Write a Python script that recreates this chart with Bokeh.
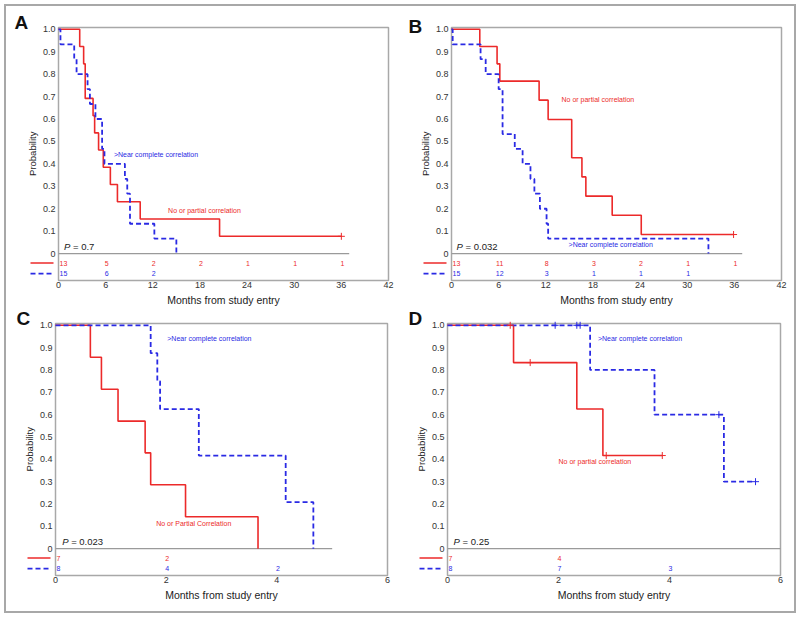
import math
from bokeh.plotting import figure
from bokeh.models import Range1d, FixedTicker, LinearAxis
from bokeh.layouts import gridplot
from bokeh.embed import file_html
from bokeh.resources import INLINE
from bokeh.core.properties import value

RED = "#ec2a2a"
BLUE = "#2a2ae4"
FONT = "Liberation Sans"
GRAY = "#a8a8a8"

# ---------------- data ----------------
y_ticks = [0, 0.1, 0.2, 0.3, 0.4, 0.5, 0.6, 0.7, 0.8, 0.9, 1.0]
y_tick_labels = ["0", "0.1", "0.2", "0.3", "0.4", "0.5", "0.6", "0.7", "0.8", "0.9", "1.0"]
x_ticks_long = [0, 6, 12, 18, 24, 30, 36, 42]
x_ticks_short = [0, 2, 4, 6]

# Panel A
A_red_time = [0, 2.7, 3.2, 3.4, 4.4, 4.6, 5.1, 5.7, 6.6, 7.5, 10.4, 20.5, 36.0]
A_red_surv = [1.0, 0.923, 0.846, 0.692, 0.615, 0.538, 0.462, 0.385, 0.308, 0.231, 0.154, 0.077, 0.077]
A_red_cens_time = [36.0]
A_red_cens_surv = [0.077]
A_blue_time = [0, 0.25, 2.0, 2.3, 3.7, 4.0, 4.7, 5.55, 5.85, 8.45, 8.75, 9.1, 12.2, 15.0]
A_blue_surv = [1.0, 0.933, 0.867, 0.8, 0.733, 0.667, 0.6, 0.467, 0.4, 0.333, 0.267, 0.133, 0.067, 0.0]
A_blue_cens_time = []
A_blue_cens_surv = []
A_risk_time = [0, 6, 12, 18, 24, 30, 36]
A_risk_red = [13, 5, 2, 2, 1, 1, 1]
A_risk_blue = [15, 6, 2]

# Panel B
B_red_time = [0, 3.6, 5.8, 6.15, 11.15, 12.3, 15.3, 16.6, 17.1, 20.45, 24.15, 35.9]
B_red_surv = [1.0, 0.923, 0.846, 0.769, 0.684, 0.598, 0.427, 0.342, 0.256, 0.171, 0.085, 0.085]
B_red_cens_time = [35.9]
B_red_cens_surv = [0.085]
B_blue_time = [0, 0.15, 3.7, 4.35, 6.0, 6.5, 8.05, 9.05, 10.05, 10.55, 11.25, 12.1, 12.3, 32.7]
B_blue_surv = [1.0, 0.933, 0.867, 0.8, 0.733, 0.533, 0.467, 0.4, 0.333, 0.267, 0.2, 0.133, 0.067, 0.0]
B_blue_cens_time = []
B_blue_cens_surv = []
B_risk_time = [0, 6, 12, 18, 24, 30, 36]
B_risk_red = [13, 11, 8, 3, 2, 1, 1]
B_risk_blue = [15, 12, 3, 1, 1, 1]

# Panel C
C_red_time = [0, 0.63, 0.83, 1.13, 1.62, 1.72, 2.35, 3.66]
C_red_surv = [1.0, 0.857, 0.714, 0.571, 0.429, 0.286, 0.143, 0.0]
C_red_cens_time = []
C_red_cens_surv = []
C_blue_time = [0, 1.72, 1.84, 1.89, 2.59, 4.16, 4.66]
C_blue_surv = [1.0, 0.875, 0.75, 0.625, 0.417, 0.208, 0.0]
C_blue_cens_time = []
C_blue_cens_surv = []
C_risk_time = [0, 2, 4]
C_risk_red = [7, 2]
C_risk_blue = [8, 4, 2]

# Panel D
D_red_time = [0, 1.19, 2.33, 2.8, 3.87]
D_red_surv = [1.0, 0.833, 0.625, 0.417, 0.417]
D_red_cens_time = [1.13, 1.49, 2.86, 3.87]
D_red_cens_surv = [1.0, 0.833, 0.417, 0.417]
D_blue_time = [0, 2.57, 3.73, 4.98, 5.55]
D_blue_surv = [1.0, 0.8, 0.6, 0.3, 0.3]
D_blue_cens_time = [1.94, 2.33, 2.39, 4.89, 5.55]
D_blue_cens_surv = [1.0, 1.0, 1.0, 0.6, 0.3]
D_risk_time = [0, 2, 4]
D_risk_red = [7, 4]
D_risk_blue = [8, 7, 3]

# ---------------- layout constants ----------------
Y0, Y1 = -0.12, 1.008          # plot box, in probability units
ROW_RED, ROW_BLUE = -0.042, -0.089
FIG_W = 394


def make_panel(letter, letter_dx, letter_dy, xmax, xticks, red, blue, red_cens, blue_cens,
               risk_time, risk_red, risk_blue, zero_end, pval, pval_xy, red_label, red_xy,
               blue_label, blue_xy, fig_h, box_left, box_right, box_top, box_h):
    ppx = (box_right - box_left) / xmax          # pixels per month
    ppy = box_h / (Y1 - Y0)                       # pixels per probability unit
    xr = Range1d(-box_left / ppx, xmax + (FIG_W - box_right) / ppx)
    yr = Range1d(Y0 - (fig_h - box_top - box_h) / ppy, Y1 + box_top / ppy)

    p = figure(width=FIG_W, height=fig_h, output_backend="svg", toolbar_location=None,
               x_range=xr, y_range=yr, x_axis_location=None, y_axis_location=None,
               min_border=0, min_border_left=0, min_border_right=0,
               min_border_top=0, min_border_bottom=0)
    p.title = None
    p.background_fill_color = "white"
    p.border_fill_color = "white"
    p.outline_line_color = None
    p.xgrid.visible = False
    p.ygrid.visible = False

    xaxis = LinearAxis(fixed_location=Y0, ticker=FixedTicker(ticks=xticks))
    yaxis = LinearAxis(fixed_location=0, ticker=FixedTicker(ticks=y_ticks))
    yaxis.major_label_overrides = dict(zip(y_ticks, y_tick_labels))
    for ax in (xaxis, yaxis):
        ax.axis_line_color = None
        ax.major_tick_line_color = None
        ax.minor_tick_line_color = None
        ax.major_tick_out = 0
        ax.major_tick_in = 0
        ax.major_label_text_font = FONT
        ax.major_label_text_font_size = "9px"
        ax.major_label_text_color = "#333333"
    xaxis.major_label_standoff = 1
    yaxis.major_label_standoff = 3
    p.add_layout(xaxis, "below")
    p.add_layout(yaxis, "left")

    # plot box
    p.quad(left=[0], right=[xmax], bottom=[Y0], top=[Y1], fill_color=None,
           line_color=GRAY, line_width=1.5)
    # zero line of the survival plot
    p.segment(x0=[0], y0=[0], x1=[zero_end], y1=[0], line_color="#9a9a9a", line_width=1.3)

    # axis titles
    p.text([xmax / 2], [Y0 - 19.5 / ppy], text=["Months from study entry"], text_color="#222222",
           text_font=value(FONT), text_font_size="10.5px", text_baseline="middle", text_align="center")
    p.text([-26 / ppx], [0.445], text=["Probability"], text_color="#222222", angle=math.pi / 2,
           text_font=value(FONT), text_font_size="9.5px", text_baseline="middle", text_align="center")

    # panel letter
    p.text([-letter_dx / ppx], [Y1 - letter_dy / ppy], text=[letter], text_color="#111111",
           text_font=value(FONT), text_font_style="bold", text_font_size="19px",
           text_baseline="alphabetic", text_align="left")

    # curves
    p.step(red[0], red[1], mode="after", line_color=RED, line_width=1.6)
    p.step(blue[0], blue[1], mode="after", line_color=BLUE, line_width=1.8, line_dash="5 3")
    if red_cens[0]:
        p.scatter(red_cens[0], red_cens[1], marker="cross", size=7, line_color=RED, line_width=1)
    if blue_cens[0]:
        p.scatter(blue_cens[0], blue_cens[1], marker="cross", size=7, line_color=BLUE, line_width=1)

    # curve labels
    p.text([red_xy[0]], [red_xy[1]], text=[red_label], text_color=RED,
           text_font=value(FONT), text_font_size="7px", text_baseline="middle", text_align="left")
    p.text([blue_xy[0]], [blue_xy[1]], text=[blue_label], text_color=BLUE,
           text_font=value(FONT), text_font_size="7px", text_baseline="middle", text_align="left")

    # P value
    p.text([pval_xy[0]], [pval_xy[1]], text=["P"], text_color="#222222", text_font=value(FONT),
           text_font_style="italic", text_font_size="9.5px", text_baseline="middle", text_align="left")
    p.text([pval_xy[0]], [pval_xy[1]], text=["= " + pval], text_color="#222222", text_font=value(FONT),
           text_font_size="9.5px", text_baseline="middle", text_align="left", x_offset=9)

    # numbers at risk
    for counts, row, color in ((risk_red, ROW_RED, RED), (risk_blue, ROW_BLUE, BLUE)):
        xs = risk_time[:len(counts)]
        labels = [str(c) for c in counts]
        p.text(xs[:1], [row], text=labels[:1], text_color=color, text_font=value(FONT),
               text_font_size="7px", text_baseline="middle", text_align="left", x_offset=1)
        p.text(xs[1:], [row] * (len(xs) - 1), text=labels[1:], text_color=color, text_font=value(FONT),
               text_font_size="7px", text_baseline="middle", text_align="center", x_offset=1)

    # line samples of the risk table, left of the box
    p.line([-28 / ppx, -5 / ppx], [ROW_RED, ROW_RED], line_color=RED, line_width=1.6)
    p.line([-28 / ppx, -5 / ppx], [ROW_BLUE, ROW_BLUE], line_color=BLUE, line_width=1.8,
           line_dash="5 3")
    return p


pA = make_panel("A", 44, -5, 42, x_ticks_long, (A_red_time, A_red_surv), (A_blue_time, A_blue_surv),
                (A_red_cens_time, A_red_cens_surv), (A_blue_cens_time, A_blue_cens_surv),
                A_risk_time, A_risk_red, A_risk_blue, 37, "0.7", (0.7, 0.03),
                "No or partial correlation", (13.95, 0.19),
                ">Near complete correlation", (7.05, 0.44), 302, 52, 382, 21, 253)
pB = make_panel("B", 43, -1, 42, x_ticks_long, (B_red_time, B_red_surv), (B_blue_time, B_blue_surv),
                (B_red_cens_time, B_red_cens_surv), (B_blue_cens_time, B_blue_cens_surv),
                B_risk_time, B_risk_red, B_risk_blue, 37, "0.032", (0.64, 0.03),
                "No or partial correlation", (14.0, 0.689),
                ">Near complete correlation", (14.9, 0.04), 302, 51, 381, 21, 253)
pC = make_panel("C", 39, -5.5, 6, x_ticks_short, (C_red_time, C_red_surv), (C_blue_time, C_blue_surv),
                (C_red_cens_time, C_red_cens_surv), (C_blue_cens_time, C_blue_cens_surv),
                C_risk_time, C_risk_red, C_risk_blue, 5, "0.023", (0.12, 0.034),
                "No or Partial Correlation", (1.82, 0.112),
                ">Near complete correlation", (2.02, 0.942), 303, 49, 381, 15, 252)
pD = make_panel("D", 39, -5.5, 6, x_ticks_short, (D_red_time, D_red_surv), (D_blue_time, D_blue_surv),
                (D_red_cens_time, D_red_cens_surv), (D_blue_cens_time, D_blue_cens_surv),
                D_risk_time, D_risk_red, D_risk_blue, 6, "0.25", (0.11, 0.034),
                "No or partial correlation", (2.0, 0.39),
                ">Near complete correlation", (2.71, 0.94), 303, 47, 380, 15, 252)

grid = gridplot([[pA, pB], [pC, pD]], toolbar_location=None)
grid.styles = {"border": "2px solid #a8a8a8", "margin-left": "4px", "margin-top": "4px"}

open("out.html", "w").write(file_html(grid, INLINE))
